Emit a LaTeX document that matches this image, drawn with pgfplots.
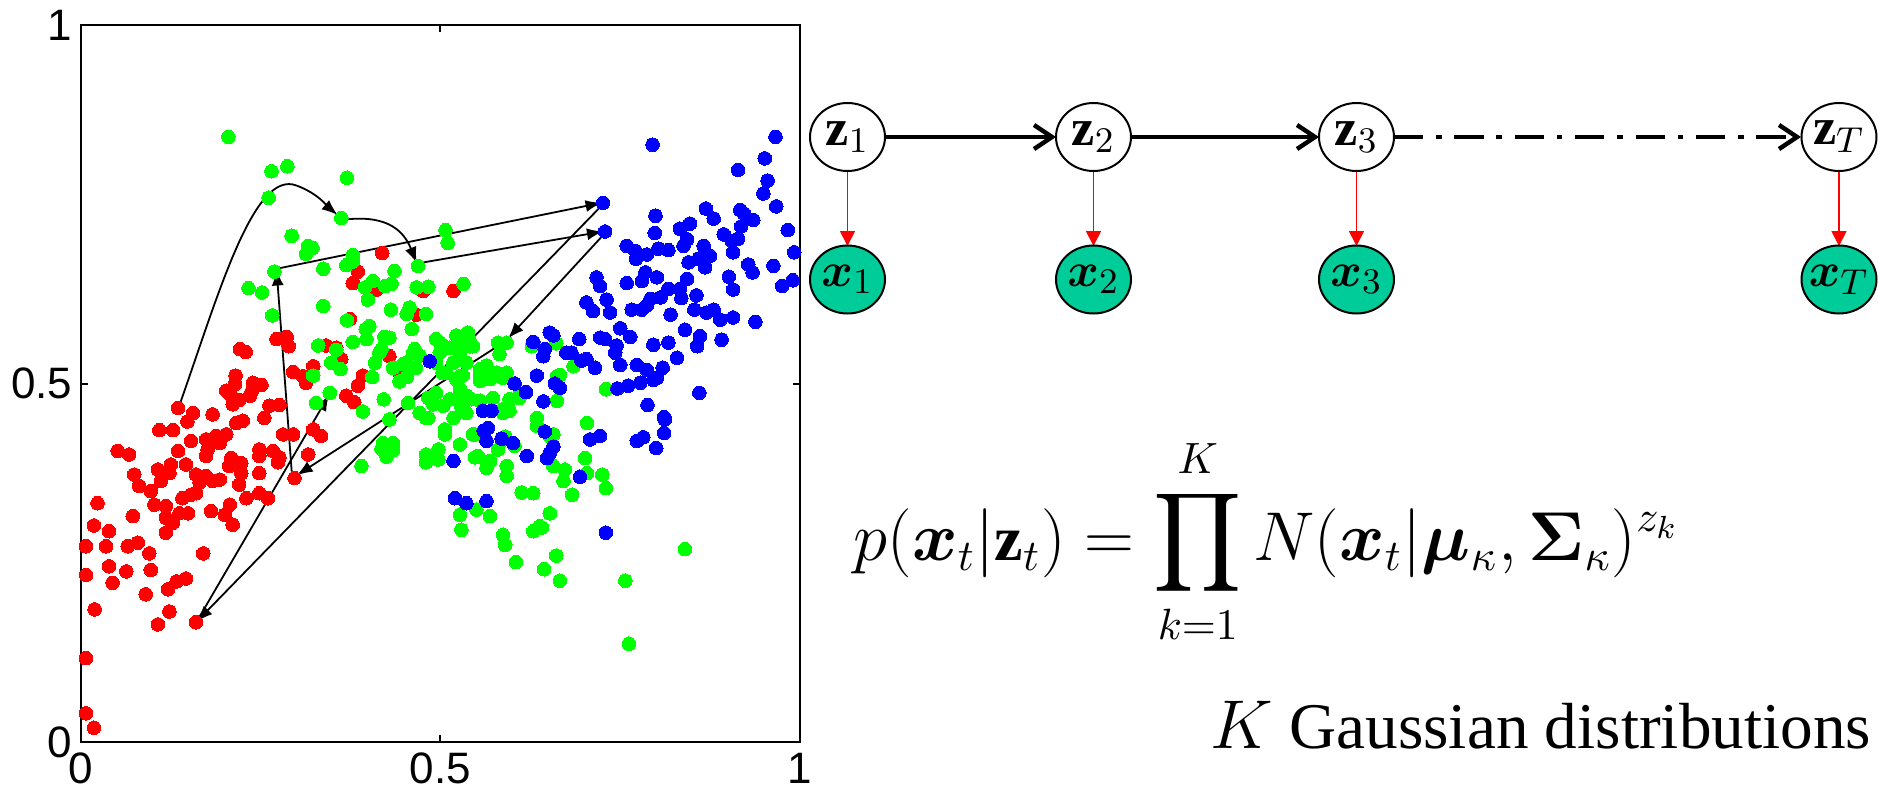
\documentclass[border=0pt]{standalone}
\usepackage{amsmath,bm}
\usepackage{fontspec}
\setmainfont{Liberation Serif}
\newfontfamily\arial{Liberation Sans}
\usepackage{pgfplots}
\usepackage{pgfplotstable}
\pgfplotsset{compat=1.18}
\usetikzlibrary{arrows.meta}
\definecolor{tealnode}{RGB}{0,204,153}

\pgfplotstableread{
x y
0.419 0.682
0.385 0.656
0.378 0.640
0.411 0.631
0.476 0.629
0.518 0.629
0.466 0.596
0.374 0.590
0.272 0.562
0.286 0.565
0.289 0.552
0.221 0.548
0.229 0.544
0.341 0.553
0.355 0.550
0.362 0.534
0.295 0.516
0.309 0.510
0.323 0.524
0.313 0.501
0.429 0.538
0.443 0.515
0.392 0.511
0.385 0.497
0.215 0.511
0.214 0.499
0.202 0.490
0.216 0.476
0.209 0.483
0.239 0.501
0.251 0.498
0.237 0.488
0.235 0.483
0.211 0.471
0.220 0.477
0.369 0.483
0.380 0.474
0.135 0.466
0.156 0.459
0.183 0.457
0.262 0.469
0.276 0.470
0.148 0.447
0.109 0.435
0.128 0.435
0.153 0.420
0.174 0.422
0.188 0.427
0.202 0.429
0.193 0.417
0.255 0.452
0.216 0.445
0.225 0.448
0.281 0.429
0.295 0.429
0.323 0.436
0.334 0.427
0.051 0.406
0.067 0.401
0.135 0.406
0.176 0.408
0.174 0.399
0.209 0.396
0.223 0.389
0.206 0.385
0.248 0.408
0.248 0.399
0.267 0.406
0.276 0.397
0.274 0.390
0.316 0.401
0.125 0.387
0.146 0.387
0.074 0.373
0.107 0.380
0.123 0.375
0.111 0.364
0.081 0.357
0.160 0.373
0.174 0.371
0.165 0.362
0.183 0.364
0.193 0.366
0.223 0.375
0.220 0.359
0.248 0.375
0.297 0.368
0.097 0.350
0.141 0.340
0.153 0.345
0.160 0.347
0.230 0.340
0.248 0.347
0.260 0.340
0.023 0.333
0.072 0.315
0.102 0.331
0.118 0.329
0.137 0.319
0.149 0.319
0.181 0.322
0.207 0.331
0.200 0.317
0.211 0.303
0.118 0.313
0.128 0.306
0.118 0.292
0.018 0.302
0.039 0.294
0.007 0.273
0.035 0.273
0.065 0.273
0.079 0.278
0.095 0.263
0.170 0.263
0.007 0.233
0.039 0.245
0.063 0.238
0.097 0.240
0.044 0.222
0.121 0.213
0.133 0.224
0.146 0.228
0.090 0.206
0.019 0.185
0.123 0.182
0.107 0.164
0.160 0.167
0.007 0.117
0.007 0.040
0.018 0.020
}\redpts

\pgfplotstableread{
x y
0.205 0.844
0.265 0.796
0.287 0.803
0.370 0.787
0.261 0.759
0.362 0.731
0.293 0.706
0.316 0.692
0.322 0.689
0.313 0.681
0.378 0.679
0.369 0.665
0.378 0.670
0.337 0.660
0.269 0.656
0.436 0.657
0.469 0.664
0.507 0.714
0.510 0.696
0.233 0.633
0.252 0.627
0.395 0.634
0.406 0.643
0.423 0.636
0.432 0.639
0.399 0.617
0.467 0.634
0.483 0.635
0.532 0.639
0.337 0.608
0.431 0.603
0.457 0.606
0.453 0.597
0.480 0.597
0.266 0.595
0.370 0.588
0.396 0.576
0.401 0.580
0.460 0.576
0.378 0.558
0.397 0.562
0.422 0.565
0.429 0.564
0.330 0.553
0.355 0.547
0.415 0.543
0.348 0.529
0.361 0.520
0.409 0.529
0.434 0.522
0.448 0.527
0.464 0.548
0.471 0.539
0.499 0.557
0.513 0.550
0.527 0.562
0.536 0.566
0.541 0.552
0.494 0.529
0.503 0.515
0.518 0.529
0.527 0.510
0.323 0.511
0.405 0.509
0.443 0.503
0.453 0.509
0.421 0.478
0.346 0.487
0.327 0.473
0.392 0.461
0.455 0.473
0.483 0.480
0.490 0.471
0.504 0.469
0.418 0.548
0.452 0.529
0.462 0.543
0.466 0.522
0.494 0.562
0.503 0.553
0.499 0.543
0.522 0.567
0.531 0.557
0.538 0.571
0.527 0.541
0.536 0.529
0.508 0.515
0.522 0.506
0.531 0.511
0.555 0.520
0.564 0.525
0.576 0.513
0.592 0.515
0.580 0.557
0.592 0.557
0.555 0.504
0.569 0.506
0.494 0.487
0.471 0.459
0.483 0.452
0.527 0.482
0.529 0.468
0.543 0.478
0.555 0.476
0.518 0.452
0.536 0.459
0.506 0.436
0.506 0.429
0.545 0.429
0.527 0.415
0.420 0.417
0.434 0.417
0.480 0.401
0.497 0.408
0.552 0.399
0.564 0.390
0.580 0.408
0.592 0.385
0.592 0.371
0.587 0.459
0.596 0.462
0.589 0.422
0.603 0.413
0.608 0.482
0.634 0.452
0.634 0.441
0.662 0.510
0.662 0.476
0.685 0.524
0.652 0.427
0.657 0.385
0.673 0.380
0.671 0.364
0.683 0.345
0.701 0.396
0.704 0.445
0.704 0.375
0.725 0.373
0.730 0.354
0.730 0.492
0.613 0.348
0.629 0.347
0.550 0.324
0.527 0.317
0.569 0.315
0.652 0.319
0.638 0.301
0.429 0.450
0.418 0.409
0.434 0.407
0.425 0.398
0.390 0.385
0.480 0.390
0.497 0.394
0.548 0.397
0.529 0.296
0.480 0.452
0.548 0.429
0.569 0.392
0.564 0.382
0.590 0.426
0.657 0.429
0.629 0.294
0.641 0.299
0.587 0.289
0.590 0.275
0.605 0.251
0.661 0.260
0.644 0.241
0.666 0.225
0.757 0.225
0.840 0.269
0.762 0.137
0.582 0.541
0.661 0.556
0.627 0.552
0.666 0.512
0.610 0.480
0.540 0.562
0.545 0.552
0.578 0.515
0.587 0.508
0.555 0.511
0.527 0.492
0.513 0.478
0.536 0.478
0.573 0.480
0.596 0.478
0.587 0.464
0.536 0.483
}\greenpts

\pgfplotstableread{
x y
0.795 0.833
0.966 0.844
0.951 0.814
0.914 0.798
0.955 0.783
0.949 0.765
0.967 0.747
0.726 0.752
0.729 0.712
0.799 0.734
0.798 0.710
0.869 0.744
0.880 0.730
0.917 0.742
0.922 0.737
0.935 0.728
0.918 0.719
0.833 0.716
0.847 0.723
0.843 0.701
0.838 0.692
0.983 0.714
0.894 0.708
0.905 0.699
0.914 0.702
0.907 0.683
0.992 0.683
0.759 0.692
0.771 0.685
0.772 0.674
0.787 0.680
0.803 0.688
0.817 0.686
0.866 0.692
0.875 0.678
0.859 0.674
0.845 0.669
0.868 0.662
0.928 0.666
0.934 0.655
0.963 0.664
0.717 0.648
0.722 0.636
0.759 0.640
0.785 0.655
0.780 0.643
0.801 0.648
0.843 0.646
0.833 0.632
0.901 0.649
0.990 0.644
0.975 0.636
0.907 0.631
0.817 0.632
0.806 0.620
0.792 0.618
0.787 0.609
0.835 0.619
0.856 0.623
0.703 0.613
0.712 0.601
0.731 0.617
0.736 0.599
0.766 0.603
0.780 0.603
0.853 0.603
0.870 0.599
0.880 0.603
0.889 0.589
0.820 0.596
0.907 0.592
0.938 0.586
0.750 0.577
0.840 0.575
0.764 0.565
0.722 0.564
0.729 0.562
0.745 0.553
0.743 0.543
0.693 0.562
0.861 0.566
0.857 0.552
0.891 0.561
0.796 0.554
0.817 0.557
0.652 0.571
0.657 0.567
0.629 0.558
0.645 0.548
0.643 0.538
0.675 0.543
0.682 0.543
0.696 0.532
0.703 0.534
0.715 0.522
0.750 0.526
0.773 0.526
0.787 0.519
0.796 0.505
0.778 0.501
0.801 0.508
0.809 0.522
0.829 0.536
0.746 0.493
0.761 0.497
0.860 0.487
0.788 0.470
0.811 0.453
0.603 0.500
0.619 0.488
0.634 0.511
0.659 0.500
0.666 0.494
0.643 0.475
0.559 0.462
0.571 0.462
0.485 0.531
0.560 0.434
0.566 0.438
0.564 0.420
0.585 0.423
0.601 0.417
0.518 0.392
0.620 0.399
0.645 0.433
0.657 0.412
0.652 0.403
0.648 0.396
0.694 0.370
0.708 0.422
0.722 0.427
0.520 0.340
0.536 0.333
0.564 0.336
0.730 0.292
0.812 0.450
0.811 0.431
0.800 0.410
0.773 0.420
0.782 0.425
}\bluepts

\begin{document}
\begin{tikzpicture}
\path[use as bounding box] (0pt,0pt) rectangle (469.5pt,-198pt);
\begin{axis}[
  at={(20.25pt,-185.5pt)}, anchor=south west,
  scale only axis, width=179.75pt, height=179.25pt,
  xmin=0, xmax=1, ymin=0, ymax=1,
  xtick={0,0.5,1}, ytick={0,0.5,1},
  xticklabels={0,0.5,1}, yticklabels={0,0.5,1},
  tick align=inside, major tick length=1.8pt,
  tick style={black, line width=0.5pt},
  axis line style={line width=0.5pt},
  ticklabel style={font=\arial\fontsize{11}{13}\selectfont},
  xticklabel style={anchor=north, inner sep=0pt, yshift=-2.5pt},
  yticklabel style={anchor=east, inner sep=0pt, xshift=-2pt},
]
\addplot[only marks, mark=*, mark size=1.7pt, color=red, mark options={draw=red, fill=red, line width=0pt}] table[x=x,y=y] {\redpts};
\addplot[only marks, mark=*, mark size=1.7pt, color=green, mark options={draw=green, fill=green, line width=0pt}] table[x=x,y=y] {\greenpts};
\addplot[only marks, mark=*, mark size=1.7pt, color=blue, mark options={draw=blue, fill=blue, line width=0pt}] table[x=x,y=y] {\bluepts};

\begin{scope}[line width=0.45pt, -{Latex[length=4pt,width=3pt]}]
\draw (axis cs:0.137,0.470) .. controls (axis cs:0.19,0.62) and (axis cs:0.24,0.80) .. (axis cs:0.30,0.776) .. controls (axis cs:0.33,0.765) and (axis cs:0.345,0.745) .. (axis cs:0.357,0.735);
\draw (axis cs:0.370,0.729) .. controls (axis cs:0.43,0.735) and (axis cs:0.45,0.71) .. (axis cs:0.467,0.668);
\draw (axis cs:0.471,0.668) -- (axis cs:0.726,0.712);
\draw (axis cs:0.729,0.710) -- (axis cs:0.594,0.563);
\draw (axis cs:0.592,0.560) -- (axis cs:0.300,0.372);
\draw (axis cs:0.293,0.378) -- (axis cs:0.272,0.659);
\draw (axis cs:0.272,0.660) -- (axis cs:0.724,0.752);
\draw (axis cs:0.726,0.750) -- (axis cs:0.161,0.168);
\draw (axis cs:0.161,0.168) -- (axis cs:0.345,0.484);
\end{scope}
\end{axis}

\begin{scope}[x=0.25pt,y=-0.25pt]
\foreach \cx/\lab in {847.5/1, 1093.5/2, 1356.5/3, 1839/T}{
  \draw[red, line width=0.45pt, -{Triangle[length=3.75pt,width=3.75pt]}] (\cx,171) -- (\cx,246);
  \draw[line width=0.5pt, fill=white] (\cx,137) ellipse [x radius=9.375pt, y radius=8.5pt];
  \node at (\cx,137) {\fontsize{13}{15}\selectfont$\mathbf{z}_{\lab}$};
  \draw[line width=0.5pt, fill=tealnode] (\cx,279.5) ellipse [x radius=9.375pt, y radius=8.5pt];
  \node at (\cx,279.5) {\fontsize{13}{15}\selectfont$\bm{x}_{\lab}$};
}
\draw[line width=1.1pt, -{Straight Barb[length=4.5pt,width=6pt]}] (885,137) -- (1056,137);
\draw[line width=1.1pt, -{Straight Barb[length=4.5pt,width=6pt]}] (1131,137) -- (1319,137);
\draw[line width=1.1pt, dash pattern=on 7.3pt off 3.2pt on 1.4pt off 3.2pt, -{Straight Barb[length=4.5pt,width=6pt]}] (1394,137) -- (1801,137);

\node[anchor=base west, inner sep=0pt] at (853,560) {\fontsize{16}{19}\selectfont$\displaystyle p(\bm{x}_t|\mathbf{z}_t)=\prod_{k=1}^{K}N(\bm{x}_t|\bm{\mu}_\kappa,\bm{\Sigma}_\kappa)^{z_k}$};
\node[anchor=base west, inner sep=0pt] at (1210,748) {\fontsize{16.3}{19}\selectfont$K$ Gaussian distributions};
\end{scope}
\end{tikzpicture}
\end{document}
